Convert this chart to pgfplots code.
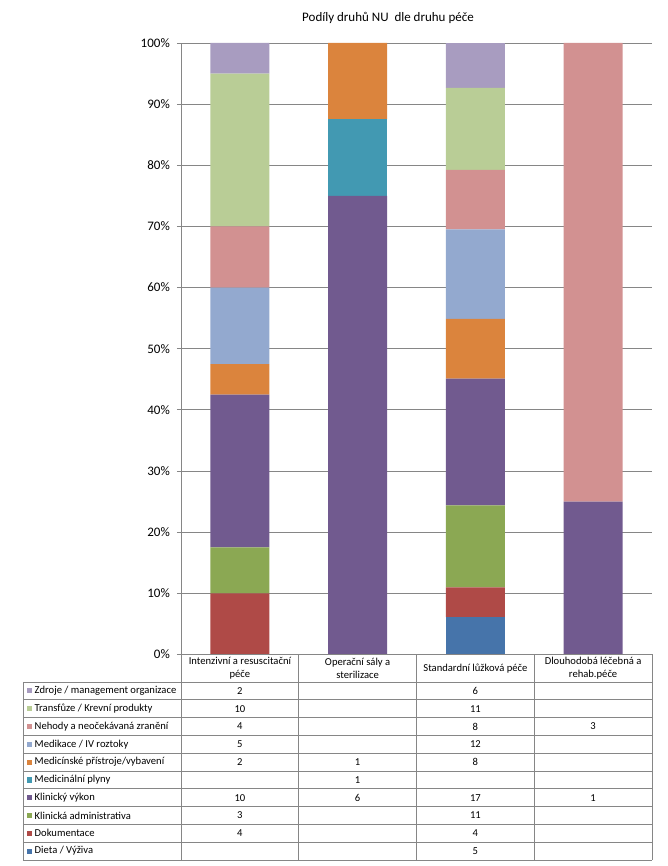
\documentclass[border=0pt]{standalone}
\usepackage{fontspec}
\setmainfont{Carlito}
\usepackage{pgfplots}
\usepackage{pgfplotstable}
\pgfplotsset{compat=1.18}

\definecolor{cDieta}{HTML}{4674AA}
\definecolor{cDok}{HTML}{AF4A47}
\definecolor{cKlinAdm}{HTML}{8BA853}
\definecolor{cKlinVyk}{HTML}{715A8F}
\definecolor{cPlyny}{HTML}{4299B2}
\definecolor{cPristroje}{HTML}{DB843D}
\definecolor{cMedikace}{HTML}{93A9CF}
\definecolor{cNehody}{HTML}{D29191}
\definecolor{cTransfuze}{HTML}{B9CD96}
\definecolor{cZdroje}{HTML}{A89CC0}
\definecolor{axisgray}{HTML}{868686}

% counts per category of care (x = 0..3)
\pgfplotstableread{
x total dieta dok klinadm klinvyk plyny pristroje medikace nehody transfuze zdroje
0 40 0 4 3 10 0 2 5 4 10 2
1 8 0 0 0 6 1 1 0 0 0 0
2 82 5 4 11 17 0 8 12 8 11 6
3 4 0 0 0 1 0 0 0 3 0 0
}\datatable

\newcommand{\rowlab}[3]{% row index, colour, label
  \pgfmathsetmacro{\yc}{\hdr-(#1+0.5)*\rh}
  \fill[#2] (-154,\yc-2.6) rectangle (-148.8,\yc+2.6);
  \node[anchor=west, inner sep=0pt] at (-146.5,\yc) {#3};
}

\begin{document}
\begin{tikzpicture}[x=1pt,y=1pt]
\path[use as bounding box] (-181,-211.5) rectangle (486,654.5);
\begin{axis}[
  at={(0,0)}, anchor=south west,
  scale only axis, width=471pt, height=611.5pt,
  ybar stacked, bar width=59pt,
  xmin=-0.5, xmax=3.5, ymin=0, ymax=100,
  xtick=\empty,
  ytick={0,10,20,30,40,50,60,70,80,90,100},
  yticklabels={0\%,10\%,20\%,30\%,40\%,50\%,60\%,70\%,80\%,90\%,100\%},
  axis y line*=left, axis x line*=bottom,
  axis line style={draw=axisgray, line width=0.8pt},
  ymajorgrids, grid style={draw=axisgray, line width=0.8pt},
  tick align=outside, major tick length=4pt,
  tick style={draw=axisgray, line width=0.8pt},
  yticklabel style={font=\fontsize{13}{15}\selectfont, inner sep=1pt, xshift=-6pt},
  every axis plot/.append style={draw=none},
]
\addplot[fill=cDieta] table[x=x, y expr=\thisrow{dieta}/\thisrow{total}*100]{\datatable};
\addplot[fill=cDok] table[x=x, y expr=\thisrow{dok}/\thisrow{total}*100]{\datatable};
\addplot[fill=cKlinAdm] table[x=x, y expr=\thisrow{klinadm}/\thisrow{total}*100]{\datatable};
\addplot[fill=cKlinVyk] table[x=x, y expr=\thisrow{klinvyk}/\thisrow{total}*100]{\datatable};
\addplot[fill=cPlyny] table[x=x, y expr=\thisrow{plyny}/\thisrow{total}*100]{\datatable};
\addplot[fill=cPristroje] table[x=x, y expr=\thisrow{pristroje}/\thisrow{total}*100]{\datatable};
\addplot[fill=cMedikace] table[x=x, y expr=\thisrow{medikace}/\thisrow{total}*100]{\datatable};
\addplot[fill=cNehody] table[x=x, y expr=\thisrow{nehody}/\thisrow{total}*100]{\datatable};
\addplot[fill=cTransfuze] table[x=x, y expr=\thisrow{transfuze}/\thisrow{total}*100]{\datatable};
\addplot[fill=cZdroje] table[x=x, y expr=\thisrow{zdroje}/\thisrow{total}*100]{\datatable};
\end{axis}

% title
\node[font=\fontsize{13}{15}\selectfont] at (207,636.5) {Podíly druhů NU\ \ dle druhu péče};

% data table
\def\rh{17.8}
\def\hdr{-27.5}
\begin{scope}[draw=axisgray, line width=0.8pt]
  \draw (0,0) -- (471,0);
  \foreach \i in {0,...,10} {
    \draw (-158,{\hdr-\i*\rh}) -- (471,{\hdr-\i*\rh});
  }
  \draw (-158,\hdr) -- (-158,{\hdr-10*\rh});
  \foreach \c in {0,117.75,235.5,353.25,471} {
    \draw (\c,0) -- (\c,{\hdr-10*\rh});
  }
\end{scope}

% header
\begin{scope}[font=\fontsize{10.6}{13}\selectfont, align=center]
  \node at (58.9,-13.75) {Intenzivní a resuscitační\\péče};
  \node at (176.6,-13.75) {Operační sály a\\sterilizace};
  \node at (294.4,-13.75) {Standardní lůžková péče};
  \node at (412.1,-13.75) {Dlouhodobá léčebná a\\rehab.péče};
\end{scope}

% row labels
\begin{scope}[font=\fontsize{10.6}{13}\selectfont]
  \rowlab{0}{cZdroje}{Zdroje / management organizace}
  \rowlab{1}{cTransfuze}{Transfůze / Krevní produkty}
  \rowlab{2}{cNehody}{Nehody a neočekávaná zranění}
  \rowlab{3}{cMedikace}{Medikace / IV roztoky}
  \rowlab{4}{cPristroje}{Medicínské přístroje/vybavení}
  \rowlab{5}{cPlyny}{Medicinální plyny}
  \rowlab{6}{cKlinVyk}{Klinický výkon}
  \rowlab{7}{cKlinAdm}{Klinická administrativa}
  \rowlab{8}{cDok}{Dokumentace}
  \rowlab{9}{cDieta}{Dieta / Výživa}
  % values: column 0
  \foreach \r/\v in {0/2,1/10,2/4,3/5,4/2,6/10,7/3,8/4} {
    \node at (58.9,{\hdr-(\r+0.5)*\rh}) {\v};
  }
  % column 1
  \foreach \r/\v in {4/1,5/1,6/6} {
    \node at (176.6,{\hdr-(\r+0.5)*\rh}) {\v};
  }
  % column 2
  \foreach \r/\v in {0/6,1/11,2/8,3/12,4/8,6/17,7/11,8/4,9/5} {
    \node at (294.4,{\hdr-(\r+0.5)*\rh}) {\v};
  }
  % column 3
  \foreach \r/\v in {2/3,6/1} {
    \node at (412.1,{\hdr-(\r+0.5)*\rh}) {\v};
  }
\end{scope}
\end{tikzpicture}
\end{document}
